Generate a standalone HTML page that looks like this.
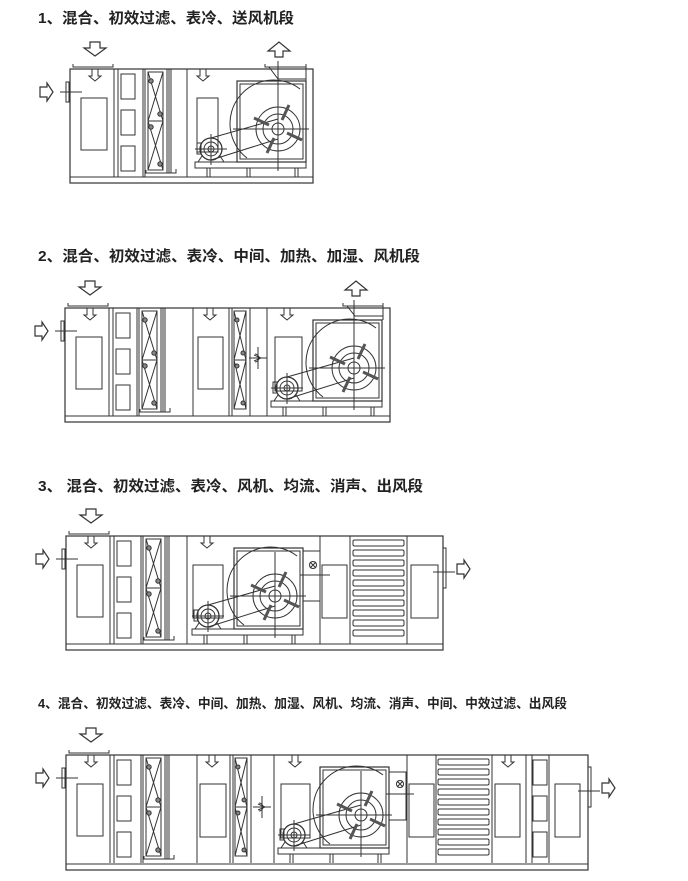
<!DOCTYPE html>
<html><head><meta charset="utf-8"><style>
html,body{margin:0;padding:0;background:#fff;}
svg{display:block;}
text{font-family:"Liberation Sans","Noto Sans CJK SC",sans-serif;font-weight:bold;fill:#222;}
</style></head><body>
<svg width="688" height="881" viewBox="0 0 688 881" xmlns="http://www.w3.org/2000/svg">
<defs>
<g id="mix" fill="none" stroke="#333" stroke-width="1">
  <rect x="11" y="29" width="26" height="52"/>
  <line x1="44" y1="0" x2="44" y2="108"/><line x1="48" y1="0" x2="48" y2="108"/>
  <path d="M3,-5 V-2 H43 V-5"/>
  <path d="M22,0 V7 H19 L25,12 L31,7 H28 V0"/>
  <path d="M20,-27 V-21 H14 L25,-13 L36,-21 H30 V-27 Z" stroke-width="1.2"/>
  <rect x="-4" y="13" width="3" height="20"/>
  <line x1="-10" y1="23" x2="12" y2="23"/>
  <path d="M-30,18 H-23 V14 L-17,23 L-23,32 V28 H-30 Z" stroke-width="1.2"/>
</g>
<g id="pf" fill="none" stroke="#333">
  <rect x="3" y="5" width="14" height="25"/><rect x="3" y="41" width="14" height="25"/><rect x="3" y="77" width="14" height="25"/>
</g>
<g id="coil" fill="none" stroke="#333">
  <line x1="0" y1="0" x2="0" y2="108"/><line x1="2" y1="0" x2="2" y2="108"/>
  <rect x="5" y="3" width="15" height="98"/><line x1="5" y1="52" x2="20" y2="52"/>
  <path d="M5,3 L20,52 M20,3 L5,52 M5,52 L20,101 M20,52 L5,101"/>
  <circle cx="8" cy="12" r="2.2" fill="#888"/><circle cx="17" cy="45" r="2.2" fill="#888"/>
  <circle cx="8" cy="58" r="2.2" fill="#888"/><circle cx="17" cy="95" r="2.2" fill="#888"/>
  <line x1="24" y1="0" x2="24" y2="104"/><line x1="26" y1="0" x2="26" y2="104"/><line x1="28" y1="0" x2="28" y2="104"/>
  <path d="M3,101 V104 H33 V100"/>
</g>
<g id="hcoil" fill="none" stroke="#333">
  <line x1="0" y1="0" x2="0" y2="108"/><line x1="3" y1="0" x2="3" y2="108"/>
  <rect x="5" y="3" width="12" height="98"/><line x1="5" y1="52" x2="17" y2="52"/>
  <path d="M5,3 L17,52 M17,3 L5,52 M5,52 L17,101 M17,52 L5,101"/>
  <circle cx="8" cy="12" r="2" fill="#888"/><circle cx="14" cy="45" r="2" fill="#888"/>
  <circle cx="8" cy="58" r="2" fill="#888"/><circle cx="14" cy="95" r="2" fill="#888"/>
  <line x1="21" y1="0" x2="21" y2="108"/>
</g>
<g id="stub" fill="none" stroke="#333"><path d="M-3,0 V7 H-6 L0,12 L6,7 H3 V0"/></g>
<g id="hum" fill="none" stroke="#333">
  <line x1="0" y1="-11" x2="0" y2="11"/><line x1="-9" y1="0" x2="9" y2="0"/>
  <path d="M-3,-4 A4 4 0 1 1 -3,4"/><path d="M-4,-3 L3,0 L-4,3"/>
</g>
<g id="fan" fill="none" stroke="#333">
  <rect x="-42" y="81" width="111" height="6"/>
  <path d="M-30,87 V96 M-27,87 V96 M10,87 V96 M13,87 V96 M58,87 V96 M61,87 V96"/>
  <circle cx="-26" cy="68" r="11" stroke-width="1.3"/><circle cx="-26" cy="68" r="7"/><circle cx="-26" cy="68" r="3"/>
  <path d="M-35,75 L-39,81 M-17,75 L-13,81 M-37,81 H-15"/>
  <rect x="-40" y="62" width="4" height="11"/>
  <line x1="-26" y1="53" x2="-26" y2="84"/><line x1="-42" y1="68" x2="-10" y2="68"/>
  <rect x="0" y="0" width="69" height="81" stroke-width="1.2"/><rect x="3" y="3" width="63" height="75"/>
  <path d="M10,77 A38 38 0 0 1 63,8"/>
  <circle cx="41" cy="48" r="22"/><circle cx="41" cy="48" r="15"/><circle cx="41" cy="48" r="6"/>
  <line x1="-4" y1="48" x2="72" y2="48"/><line x1="41" y1="4" x2="41" y2="90"/>
  <path d="M-26,57 L41,38 M-26,79 L41,58"/>
  <g stroke="#555" stroke-width="3">
    <path d="M45,39 L52,24 M50,52 L65,59 M37,57 L30,72 M32,44 L17,37"/>
  </g>
</g>
<g id="lou" fill="none" stroke="#333">
  <rect x="3" y="4" width="51" height="6" rx="1.5"/><rect x="3" y="14" width="51" height="6" rx="1.5"/>
  <rect x="3" y="24" width="51" height="6" rx="1.5"/><rect x="3" y="34" width="51" height="6" rx="1.5"/>
  <rect x="3" y="44" width="51" height="6" rx="1.5"/><rect x="3" y="54" width="51" height="6" rx="1.5"/>
  <rect x="3" y="64" width="51" height="6" rx="1.5"/><rect x="3" y="74" width="51" height="6" rx="1.5"/>
  <rect x="3" y="84" width="51" height="6" rx="1.5"/><rect x="3" y="94" width="51" height="6" rx="1.5"/>
</g>
<g id="outr" fill="none" stroke="#333">
  <rect x="0" y="12" width="3" height="40"/><line x1="-10" y1="36" x2="12" y2="36"/>
  <path d="M14,28 H21 V24 L27,33 L21,42 V38 H14 Z" stroke-width="1.2"/>
</g>
<g id="bal" fill="none" stroke="#333">
  <circle cx="0" cy="0" r="3.5"/><path d="M-3,-3 L3,3 M3,-3 L-3,3"/>
</g>
</defs>

<text x="38" y="23" font-size="15" textLength="256" lengthAdjust="spacingAndGlyphs">1、混合、初效过滤、表冷、送风机段</text>
<text x="38" y="261" font-size="15" textLength="382" lengthAdjust="spacingAndGlyphs">2、混合、初效过滤、表冷、中间、加热、加湿、风机段</text>
<text x="38" y="491" font-size="15" textLength="385" lengthAdjust="spacingAndGlyphs">3、 混合、初效过滤、表冷、风机、均流、消声、出风段</text>
<text x="38" y="708" font-size="13" textLength="529" lengthAdjust="spacingAndGlyphs">4、混合、初效过滤、表冷、中间、加热、加湿、风机、均流、消声、中间、中效过滤、出风段</text>

<!-- Diagram 1 -->
<g transform="translate(0,69)" fill="none" stroke="#333">
  <rect x="70" y="0" width="243" height="114" stroke-width="1.2"/><line x1="70" y1="108" x2="313" y2="108"/>
  <use href="#mix" x="70" y="0"/>
  <use href="#pf" x="118" y="0"/>
  <use href="#coil" x="143" y="0"/>
  <line x1="187" y1="0" x2="187" y2="108"/>
  <rect x="197" y="29" width="21" height="54"/>
  <use href="#stub" x="203" y="0"/>
  <use href="#fan" x="237" y="12"/>
  <path d="M265,-5 V-2 H306 V-5 M269,-2 L278,10 H306 M306,-2 V12"/>
  <line x1="278" y1="-8" x2="278" y2="16"/>
  <path d="M283,-12 V-18 H290 L279,-27 L268,-18 H275 V-12 Z" stroke-width="1.2"/>
</g>

<!-- Diagram 2 -->
<g transform="translate(0,308)" fill="none" stroke="#333">
  <rect x="65" y="0" width="325" height="114" stroke-width="1.2"/><line x1="65" y1="108" x2="390" y2="108"/>
  <use href="#mix" x="65" y="0"/>
  <use href="#pf" x="113" y="0"/>
  <use href="#coil" x="137" y="0"/>
  <line x1="193" y1="0" x2="193" y2="108"/>
  <rect x="198" y="29" width="25" height="52"/>
  <use href="#stub" x="210" y="0"/>
  <use href="#hcoil" x="229" y="0"/>
  <line x1="267" y1="0" x2="267" y2="108"/>
  <use href="#hum" x="258" y="50"/>
  <rect x="275" y="29" width="27" height="54"/>
  <use href="#stub" x="287" y="0"/>
  <use href="#fan" x="313" y="12"/>
  <path d="M343,-5 V-2 H383 V-5 M347,-2 L355,8 H383 M383,-2 V12"/>
  <line x1="354" y1="-8" x2="354" y2="16"/>
  <path d="M360,-12 V-18 H367 L356,-27 L345,-18 H352 V-12 Z" stroke-width="1.2"/>
</g>

<!-- Diagram 3 -->
<g transform="translate(0,536)" fill="none" stroke="#333">
  <rect x="66" y="0" width="377" height="114" stroke-width="1.2"/><line x1="66" y1="108" x2="443" y2="108"/>
  <use href="#mix" x="66" y="0"/>
  <use href="#pf" x="114" y="0"/>
  <use href="#coil" x="141" y="0"/>
  <line x1="187" y1="0" x2="187" y2="108"/>
  <rect x="193" y="29" width="30" height="53"/>
  <use href="#stub" x="207" y="0"/>
  <use href="#fan" x="234" y="12"/>
  <rect x="303" y="15" width="17" height="50"/>
  <line x1="300" y1="39" x2="330" y2="39"/>
  <use href="#bal" x="313" y="29"/>
  <line x1="320" y1="0" x2="320" y2="108"/>
  <rect x="322" y="29" width="25" height="53"/>
  <line x1="350" y1="0" x2="350" y2="108"/>
  <use href="#lou" x="350" y="0"/>
  <line x1="407" y1="0" x2="407" y2="108"/>
  <rect x="411" y="29" width="27" height="53"/>
  <use href="#outr" x="443" y="0"/>
</g>

<!-- Diagram 4 -->
<g transform="translate(0,755)" fill="none" stroke="#333">
  <rect x="66" y="0" width="522" height="115" stroke-width="1.2"/><line x1="66" y1="109" x2="588" y2="109"/>
  <use href="#mix" x="66" y="0"/>
  <use href="#pf" x="114" y="0"/>
  <use href="#coil" x="141" y="0"/>
  <line x1="197" y1="0" x2="197" y2="108"/>
  <rect x="200" y="29" width="26" height="53"/>
  <use href="#stub" x="212" y="0"/>
  <use href="#hcoil" x="230" y="0"/>
  <line x1="274" y1="0" x2="274" y2="108"/>
  <use href="#hum" x="262" y="52"/>
  <rect x="281" y="29" width="29" height="54"/>
  <use href="#stub" x="295" y="0"/>
  <use href="#fan" x="320" y="12"/>
  <rect x="389" y="17" width="17" height="48"/>
  <line x1="386" y1="39" x2="414" y2="39"/>
  <use href="#bal" x="400" y="29"/>
  <line x1="407" y1="0" x2="407" y2="108"/>
  <rect x="409" y="29" width="25" height="53"/>
  <line x1="436" y1="0" x2="436" y2="108"/>
  <use href="#lou" x="435" y="0"/>
  <line x1="492" y1="0" x2="492" y2="108"/>
  <rect x="495" y="29" width="25" height="53"/>
  <use href="#stub" x="508" y="0"/>
  <line x1="526" y1="0" x2="526" y2="108"/><line x1="532" y1="0" x2="532" y2="108"/>
  <use href="#pf" x="530" y="0"/>
  <line x1="549" y1="0" x2="549" y2="108"/>
  <rect x="555" y="29" width="25" height="53"/>
  <use href="#outr" x="588" y="0"/>
</g>
</svg>
</body></html>
